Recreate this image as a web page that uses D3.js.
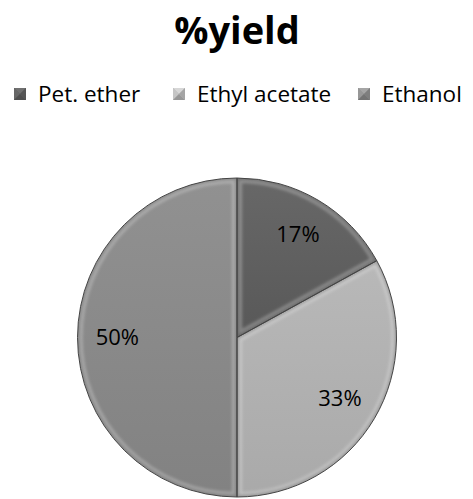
<!DOCTYPE html>
<html>
<head>
<meta charset="utf-8">
<script src="https://cdn.jsdelivr.net/npm/d3@7"></script>
<style>
  html, body { margin: 0; padding: 0; background: #fff; }
  svg { display: block; }
  text { font-family: "Open Sans", "Liberation Sans", sans-serif; }
</style>
</head>
<body>
<svg id="chart" width="473" height="499"></svg>
<script>
// Solvent extraction yields (%)
const categories = ["Pet. ether", "Ethyl acetate", "Ethanol"];
const values = [17, 33, 50];
const labels = ["17%", "33%", "50%"];
const colors = ["#5e5e5e", "#b4b4b4", "#8a8a8a"];
const title = "%yield";

const svg = d3.select("#chart");
const defs = svg.append("defs");

const soft = defs.append("filter").attr("id", "soft")
  .attr("x", "-10%").attr("y", "-10%").attr("width", "120%").attr("height", "120%");
soft.append("feGaussianBlur").attr("stdDeviation", 1.6);

// Title
svg.append("text")
  .attr("x", 237).attr("y", 44)
  .attr("text-anchor", "middle")
  .style("font-size", "38px").style("font-weight", "700")
  .attr("fill", "#000")
  .text(title);

// Legend
const legendX = [14, 173, 358];
const leg = svg.append("g").selectAll("g").data(categories).join("g")
  .attr("transform", (d, i) => `translate(${legendX[i]},94)`);
const m = 12;
leg.each(function(d, i) {
  const g = d3.select(this);
  const c = d3.color(colors[i]);
  const h = m / 2;
  g.append("rect").attr("x", 0).attr("y", -h).attr("width", m).attr("height", m).attr("fill", c);
  g.append("path").attr("d", `M0,${-h}L${m},${-h}L${h},0Z`).attr("fill", c.brighter(0.5));
  g.append("path").attr("d", `M0,${-h}L0,${h}L${h},0Z`).attr("fill", c.brighter(0.25));
  g.append("path").attr("d", `M0,${h}L${m},${h}L${h},0Z`).attr("fill", c.darker(0.5));
  g.append("path").attr("d", `M${m},${-h}L${m},${h}L${h},0Z`).attr("fill", c.darker(0.25));
  g.append("text").attr("x", 24).attr("y", 0).attr("dy", "0.36em")
    .style("font-size", "22.5px").attr("fill", "#000").text(d);
});

// Pie
const cx = 237, cy = 337.5, r = 159.5;
const pie = d3.pie().sort(null).value(d => d);
const arcs = pie(values);
const arc = d3.arc().innerRadius(0).outerRadius(r);
const labelArc = d3.arc().innerRadius(r * 0.75).outerRadius(r * 0.75);

const g = svg.append("g").attr("transform", `translate(${cx},${cy})`);

// one clip per slice so edge shading stays inside it
defs.selectAll("clipPath.sc").data(arcs).join("clipPath")
  .attr("class", "sc")
  .attr("id", (d, i) => "slice-clip-" + i)
  .append("path").attr("d", arc);

// Vertical shading for a slightly rounded look
const grad = defs.append("linearGradient").attr("id", "shade")
  .attr("x1", 0).attr("y1", 0).attr("x2", 0).attr("y2", 1);
grad.append("stop").attr("offset", 0).attr("stop-color", "#fff").attr("stop-opacity", 0.06);
grad.append("stop").attr("offset", 1).attr("stop-color", "#000").attr("stop-opacity", 0.06);

const slices = g.selectAll("g.slice").data(arcs).join("g")
  .attr("class", "slice")
  .attr("clip-path", (d, i) => `url(#slice-clip-${i})`);

slices.append("path")
  .attr("d", arc)
  .attr("fill", (d, i) => colors[i]);

slices.append("path")
  .attr("d", arc)
  .attr("fill", "url(#shade)");

// light ridge just inside each slice edge
slices.append("path")
  .attr("d", arc)
  .attr("fill", "none")
  .attr("stroke", "#ffffff")
  .attr("stroke-opacity", 0.28)
  .attr("stroke-width", 10)
  .attr("filter", "url(#soft)");

// darker band right at each edge
slices.append("path")
  .attr("d", arc)
  .attr("fill", "none")
  .attr("stroke", "#000")
  .attr("stroke-opacity", 0.22)
  .attr("stroke-width", 4)
  .attr("filter", "url(#soft)");

g.selectAll("path.edge").data(arcs).join("path")
  .attr("class", "edge")
  .attr("d", arc)
  .attr("fill", "none")
  .attr("stroke", "#444")
  .attr("stroke-width", 1);

g.selectAll("text.lbl").data(arcs).join("text")
  .attr("class", "lbl")
  .attr("transform", d => `translate(${labelArc.centroid(d)})`)
  .attr("text-anchor", "middle")
  .attr("dy", "0.36em")
  .style("font-size", "22px")
  .attr("fill", "#000")
  .text((d, i) => labels[i]);
</script>
</body>
</html>
